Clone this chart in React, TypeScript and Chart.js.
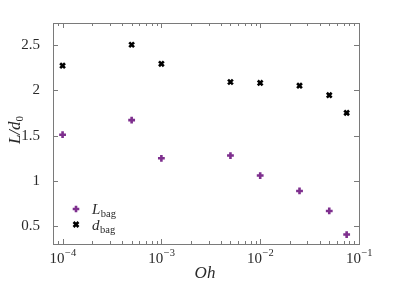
import React, { useEffect, useRef } from "react";
import { Chart, registerables } from "chart.js";

Chart.register(...registerables);

const ohValues = [1e-4, 5e-4, 1e-3, 5e-3, 1e-2, 2.5e-2, 5e-2, 7.5e-2];
const lBag = [1.51, 1.67, 1.25, 1.28, 1.06, 0.89, 0.67, 0.41];
const dBag = [2.27, 2.5, 2.29, 2.09, 2.08, 2.05, 1.945, 1.75];
const yTicks = [0.5, 1, 1.5, 2, 2.5];
const xMajorTicks = [1e-4, 1e-3, 1e-2, 1e-1];
const xMinorMultipliers = [2, 3, 4, 5, 6, 7, 8, 9];
const xMinorExtra = [9e-5];

const PURPLE = "#7E2F8E";
const FRAME = "#7a7a7a";
const TEXT = "#2a2a2a";
const SERIF = "'Liberation Serif', 'DejaVu Serif', serif";

function allXTicks(): number[] {
  const t: number[] = [...xMinorExtra];
  for (let i = 0; i < xMajorTicks.length; i++) {
    t.push(xMajorTicks[i]);
    if (i < xMajorTicks.length - 1) {
      for (const m of xMinorMultipliers) t.push(+(xMajorTicks[i] * m).toPrecision(3));
    }
  }
  return t;
}

const framePlugin = {
  id: "frameTicks",
  afterDraw(chart: any) {
    const ctx = chart.ctx;
    const { left, right, top, bottom } = chart.chartArea;
    const xs = chart.scales.x;
    const ys = chart.scales.y;
    ctx.save();
    ctx.strokeStyle = FRAME;
    ctx.lineWidth = 1;
    ctx.strokeRect(Math.round(left) + 0.5, Math.round(top) + 0.5, Math.round(right - left), Math.round(bottom - top));
    for (const v of allXTicks()) {
      const px = Math.round(xs.getPixelForValue(v)) + 0.5;
      if (px < left + 1 || px > right - 1) continue;
      const major = xMajorTicks.includes(v);
      const len = major ? 5 : 3;
      ctx.beginPath();
      ctx.moveTo(px, bottom);
      ctx.lineTo(px, bottom - len);
      ctx.moveTo(px, top);
      ctx.lineTo(px, top + len);
      ctx.stroke();
    }
    for (const v of yTicks) {
      const py = Math.round(ys.getPixelForValue(v)) + 0.5;
      ctx.beginPath();
      ctx.moveTo(left, py);
      ctx.lineTo(left + 5, py);
      ctx.moveTo(right, py);
      ctx.lineTo(right - 5, py);
      ctx.stroke();
    }
    ctx.fillStyle = TEXT;
    ctx.textBaseline = "alphabetic";
    for (const v of xMajorTicks) {
      const px = xs.getPixelForValue(v);
      const exp = "\u2212" + String(Math.round(-Math.log10(v)));
      ctx.font = `15px ${SERIF}`;
      const wb = ctx.measureText("10").width;
      ctx.font = `10.5px ${SERIF}`;
      const we = ctx.measureText(exp).width;
      const x0 = px - (wb + we) / 2;
      ctx.font = `15px ${SERIF}`;
      ctx.textAlign = "left";
      ctx.fillText("10", x0, 263);
      ctx.font = `10.5px ${SERIF}`;
      ctx.fillText(exp, x0 + wb + 0.5, 256);
    }
    ctx.font = `italic 17px ${SERIF}`;
    ctx.textAlign = "center";
    ctx.fillText("Oh", 205, 278);
    ctx.save();
    ctx.translate(20, 130);
    ctx.rotate(-Math.PI / 2);
    ctx.font = `italic 17px ${SERIF}`;
    const wL = ctx.measureText("L/d").width;
    ctx.font = `11px ${SERIF}`;
    const w0 = ctx.measureText("0").width;
    const sx = -(wL + w0) / 2;
    ctx.textAlign = "left";
    ctx.font = `italic 17px ${SERIF}`;
    ctx.fillText("L/d", sx, 0);
    ctx.font = `11px ${SERIF}`;
    ctx.fillText("0", sx + wL, 3);
    ctx.restore();
    const entries = [
      { color: PURPLE, style: "cross", main: "L", y: 209 },
      { color: "#000000", style: "crossRot", main: "d", y: 224.5 },
    ];
    for (const e of entries) {
      ctx.strokeStyle = e.color;
      ctx.lineWidth = 2.6;
      ctx.beginPath();
      const r = 3.3;
      const cx = 76;
      if (e.style === "cross") {
        ctx.moveTo(cx - r, e.y);
        ctx.lineTo(cx + r, e.y);
        ctx.moveTo(cx, e.y - r);
        ctx.lineTo(cx, e.y + r);
      } else {
        const q = r * 0.75;
        ctx.moveTo(cx - q, e.y - q);
        ctx.lineTo(cx + q, e.y + q);
        ctx.moveTo(cx + q, e.y - q);
        ctx.lineTo(cx - q, e.y + q);
      }
      ctx.stroke();
      ctx.fillStyle = TEXT;
      ctx.textAlign = "left";
      ctx.font = `italic 15px ${SERIF}`;
      ctx.fillText(e.main, 92, e.y + 5);
      const wm = ctx.measureText(e.main).width;
      ctx.font = `10.5px ${SERIF}`;
      ctx.fillText("bag", 92 + wm + 0.5, e.y + 8);
    }
    ctx.restore();
  },
};

export default function App() {
  const ref = useRef<HTMLCanvasElement | null>(null);
  useEffect(() => {
    if (!ref.current) return;
    const chart = new Chart(ref.current, {
      type: "scatter",
      data: {
        datasets: [
          {
            label: "L_bag",
            data: ohValues.map((x, i) => ({ x, y: lBag[i] })),
            pointStyle: "cross",
            radius: 3.4,
            borderWidth: 2.6,
            borderColor: PURPLE,
            backgroundColor: PURPLE,
          },
          {
            label: "d_bag",
            data: ohValues.map((x, i) => ({ x, y: dBag[i] })),
            pointStyle: "crossRot",
            radius: 3.4,
            borderWidth: 2.6,
            borderColor: "#000000",
            backgroundColor: "#000000",
          },
        ],
      },
      options: {
        responsive: false,
        animation: false,
        layout: { padding: { top: 23, right: 40, left: 0, bottom: 0 } },
        plugins: { legend: { display: false }, tooltip: { enabled: false } },
        scales: {
          x: {
            type: "logarithmic",
            min: 8e-5,
            max: 0.1,
            grid: { display: false },
            border: { display: false },
            ticks: { display: false },
            afterBuildTicks: (s: any) => {
              s.ticks = allXTicks().map((v) => ({ value: v }));
            },
            afterFit: (s: any) => {
              s.height = 45;
            },
          },
          y: {
            type: "linear",
            min: 0.306,
            max: 2.74,
            grid: { display: false },
            border: { display: false },
            afterBuildTicks: (s: any) => {
              s.ticks = yTicks.map((v) => ({ value: v }));
            },
            ticks: {
              color: TEXT,
              padding: 5,
              font: { family: SERIF, size: 15 },
              callback: (v: any) => String(v),
            },
            afterFit: (s: any) => {
              s.width = 53;
            },
          },
        },
      },
      plugins: [framePlugin],
    });
    return () => chart.destroy();
  }, []);
  return (
    <div style={{ position: "fixed", left: 0, top: 0, width: 399, height: 289, background: "#fff" }}>
      <canvas ref={ref} width={399} height={289} />
    </div>
  );
}
